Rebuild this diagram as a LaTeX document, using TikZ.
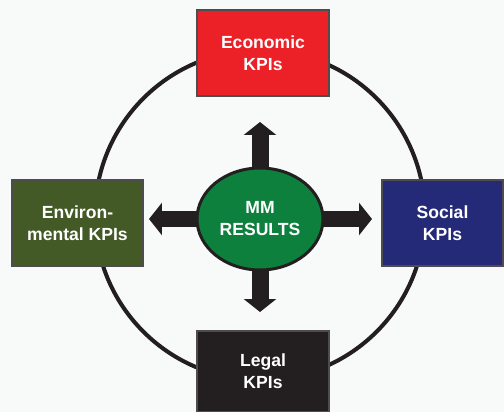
\documentclass[tikz,border=0pt]{standalone}
\usepackage{fontspec}
\setmainfont{Liberation Sans}
\usepackage{tikz}
\usetikzlibrary{arrows.meta,shapes.geometric,positioning}
\pgfdeclarelayer{background}
\pgfsetlayers{background,main}

\definecolor{bgwhite}{RGB}{248,250,250}
\definecolor{ecored}{RGB}{236,32,39}
\definecolor{envgreen}{RGB}{67,90,38}
\definecolor{socblue}{RGB}{37,42,120}
\definecolor{legblack}{RGB}{35,31,32}
\definecolor{mmgreen}{RGB}{14,128,62}

\begin{document}
\begin{tikzpicture}[x=0.02cm, y=-0.02cm]
                \tikzstyle{kpi} = [shape=rectangle, draw=legblack!80, line width=0.6pt, text=white, align=center, minimum width=2.64cm, minimum height=1.72cm, inner sep=0pt, font=\bfseries\fontsize{10}{12.5}\selectfont];
                \tikzstyle{push} = [-{Triangle[width=0.64cm,length=0.26cm]}, line width=0.34cm, draw=legblack];

                \useasboundingbox (0,0) rectangle (504,412);

                % outer ring
                \draw[legblack, line width=2.3pt] (260,215) circle (3.3cm);

                \node[kpi, fill=ecored](E) at (263,53) {Economic\\KPIs};
                \node[kpi, fill=envgreen, minimum width=2.62cm](N) at (77.5,223) {Environ-\\mental KPIs};
                \node[kpi, fill=socblue, minimum width=2.42cm](S) at (442.5,223) {Social\\KPIs};
                \node[kpi, fill=legblack, minimum height=1.62cm](L) at (263,371.5) {Legal\\KPIs};

                \node[shape=ellipse, fill=mmgreen, draw=legblack, line width=1.7pt, minimum width=2.52cm, minimum height=2.04cm, inner sep=0pt, text=white, align=center, font=\bfseries\fontsize{10}{12.5}\selectfont](R) at (260,219) {MM\\RESULTS};

                \coordinate (up) at (260,122);
                \coordinate (down) at (260,312);
                \coordinate (left) at (149,219);
                \coordinate (right) at (372,219);

                \begin{pgfonlayer}{background}
                \fill[bgwhite] (0,0) rectangle (504,412);
                \draw[push] (R.center) -- (up);
                \draw[push] (R.center) -- (down);
                \draw[push] (R.center) -- (left);
                \draw[push] (R.center) -- (right);
                \end{pgfonlayer}
\end{tikzpicture}
\end{document}
